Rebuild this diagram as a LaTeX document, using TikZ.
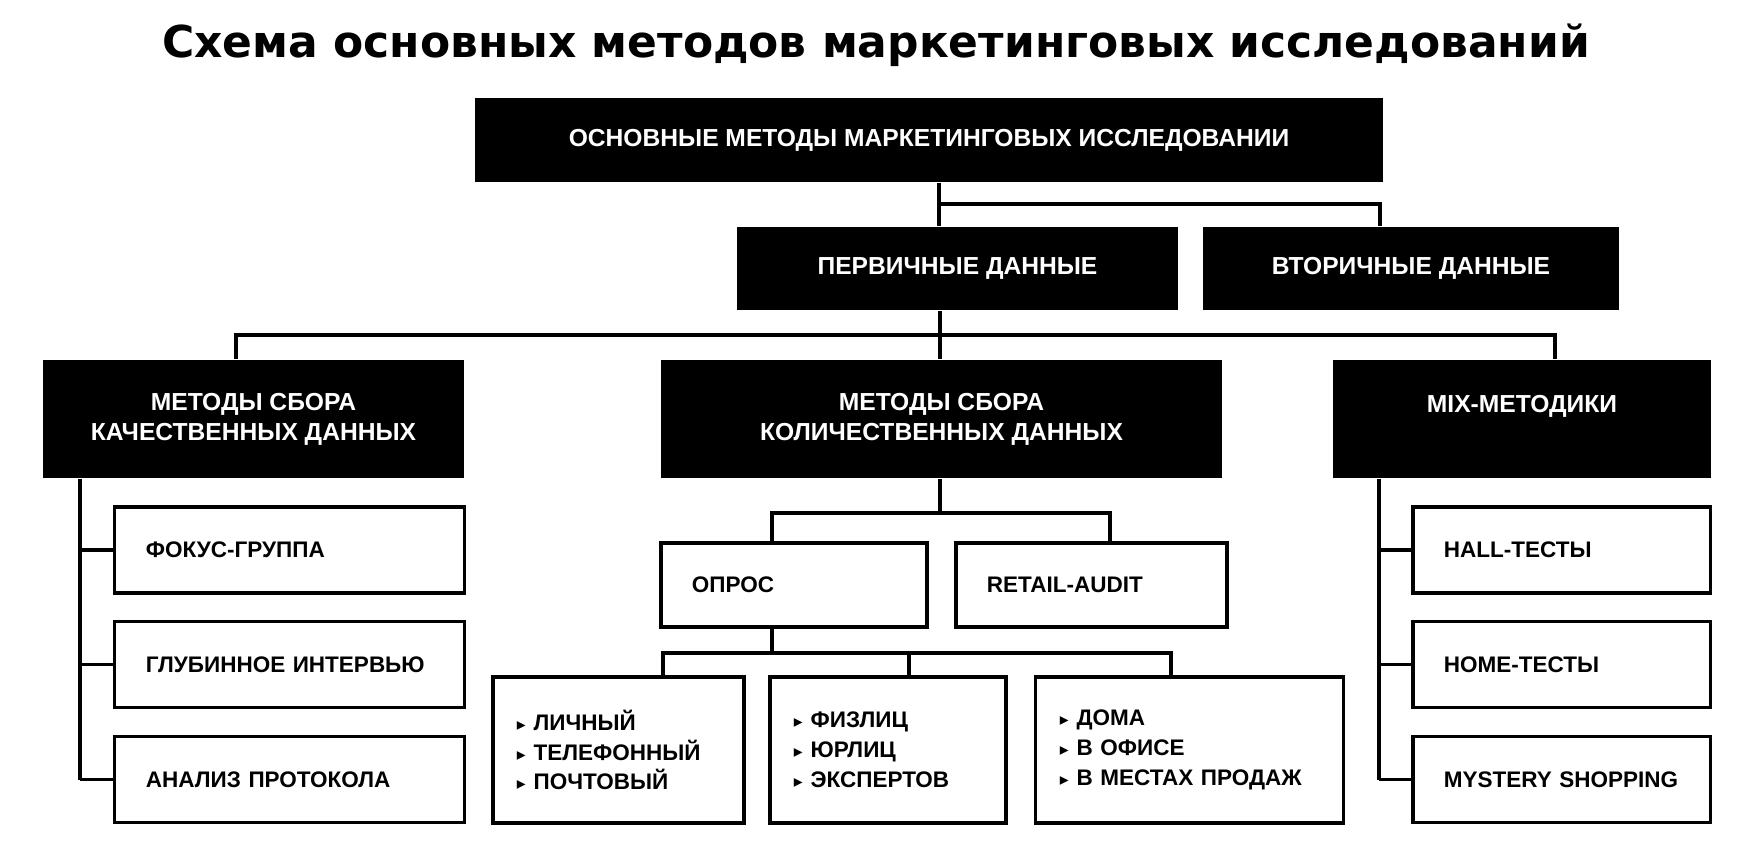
\documentclass[tikz,border=0pt]{standalone}
\usepackage{fontspec}
\setmainfont{Liberation Sans}
\newfontfamily\titlefont{DejaVu Sans}
\newfontfamily\symfont{DejaVu Sans}
\newcommand\blt{{\symfont\fontsize{5}{5}\selectfont ▸}\hspace{0.35em}}

\tikzset{
  hdr/.style={fill=black, text=white, inner sep=0pt, align=center,
    font=\bfseries\fontsize{7}{8.5}\selectfont},
  leaf/.style={draw=black, line width=0.9pt, inner xsep=0.31cm, inner ysep=0pt,
    align=left, text width=#1, font=\bfseries\fontsize{6.4}{8.5}\selectfont},
  sub/.style={leaf=#1, inner xsep=0.24cm, minimum height=1.46cm},
  conn/.style={line width=0.9pt},
}

\begin{document}
\begin{tikzpicture}[x=0.01cm, y=-0.01cm]
  \useasboundingbox (0,0) rectangle (1762,849);

  % Title
  \node[font=\titlefont\bfseries\fontsize{12.5}{15}\selectfont] (title) at (876,45)
    {Схема основных методов маркетинговых исследований};

  % Black header boxes
  \node[hdr, minimum width=9.08cm, minimum height=0.84cm] (main) at (929,140)
    {\raisebox{-1.5pt}{ОСНОВНЫЕ МЕТОДЫ МАРКЕТИНГОВЫХ ИССЛЕДОВАНИИ}};
  \node[hdr, minimum width=4.41cm, minimum height=0.83cm] (prim) at (957.5,268.5) {ПЕРВИЧНЫЕ ДАННЫЕ};
  \node[hdr, minimum width=4.16cm, minimum height=0.83cm] (sec) at (1411,268.5) {ВТОРИЧНЫЕ ДАННЫЕ};
  \node[hdr, minimum width=4.21cm, minimum height=1.18cm] (qual) at (253.5,419)
    {МЕТОДЫ СБОРА\\КАЧЕСТВЕННЫХ ДАННЫХ};
  \node[hdr, minimum width=5.61cm, minimum height=1.18cm] (quant) at (941.5,419)
    {МЕТОДЫ СБОРА\\КОЛИЧЕСТВЕННЫХ ДАННЫХ};
  \node[hdr, minimum width=3.78cm, minimum height=1.18cm] (mix) at (1522,419) {MIX-МЕТОДИКИ\\\mbox{}};

  % Qualitative methods
  \node[leaf=2.87cm, minimum height=0.86cm] (focus) at (289.5,550) {ФОКУС-ГРУППА};
  \node[leaf=2.87cm, minimum height=0.86cm] (deep)  at (289.5,664.5) {ГЛУБИННОЕ ИНТЕРВЬЮ};
  \node[leaf=2.87cm, minimum height=0.86cm] (proto) at (289.5,779.5) {АНАЛИЗ ПРОТОКОЛА};

  % Mix methods
  \node[leaf=2.35cm, minimum height=0.86cm] (hall) at (1561.5,550) {HALL-ТЕСТЫ};
  \node[leaf=2.35cm, minimum height=0.86cm] (home) at (1561.5,664.5) {HOME-ТЕСТЫ};
  \node[leaf=2.35cm, minimum height=0.86cm] (myst) at (1561.5,779.5) {MYSTERY SHOPPING};

  % Quantitative methods
  \node[leaf=2.04cm, minimum height=0.84cm] (opros)  at (794,585) {ОПРОС};
  \node[leaf=2.09cm, minimum height=0.84cm] (retail) at (1091.5,585) {RETAIL-AUDIT};
  \node[sub=2.03cm] (sub1) at (618.5,750) {\blt ЛИЧНЫЙ\\\blt ТЕЛЕФОННЫЙ\\\blt ПОЧТОВЫЙ};
  \node[sub=1.88cm] (sub2) at (888,750) {\blt ФИЗЛИЦ\\\blt ЮРЛИЦ\\\blt ЭКСПЕРТОВ};
  \node[sub=2.59cm] (sub3) at (1189.5,750) {\blt ДОМА\\\blt В ОФИСЕ\\\blt В МЕСТАХ ПРОДАЖ};

  % Connections: top level
  \coordinate (j1) at (939,204);
  \coordinate (j1r) at (1380,204);
  \draw[conn] (main.south -| j1) -- (prim.north -| j1);
  \draw[conn] (j1) -- (j1r) -- (sec.north -| j1r);

  % Connections: primary data
  \coordinate (j2) at (940,335);
  \coordinate (j2l) at (236,335);
  \coordinate (j2r) at (1555,335);
  \draw[conn] (prim.south -| j2) -- (quant.north -| j2);
  \draw[conn] (qual.north -| j2l) -- (j2l) -- (j2r) -- (mix.north -| j2r);

  % Connections: qualitative and mix lists
  \coordinate (qv) at (80,780);
  \coordinate (mv) at (1379,780);
  \draw[conn] (qual.south -| qv) -- (qv);
  \draw[conn] (mix.south -| mv) -- (mv);
  \foreach \n in {focus,deep,proto} \draw[conn] (\n.west) -- (\n.west -| qv);
  \foreach \n in {hall,home,myst} \draw[conn] (\n.west) -- (\n.west -| mv);

  % Connections: quantitative
  \coordinate (j3l) at (772,513);
  \coordinate (j3r) at (1110,513);
  \draw[conn] (quant.south -| j2) -- (j2 |- j3l);
  \draw[conn] (opros.north -| j3l) -- (j3l) -- (j3r) -- (retail.north -| j3r);

  % Connections: survey kinds
  \coordinate (j4) at (772,653);
  \coordinate (j4l) at (663,653);
  \coordinate (j4m) at (909,653);
  \coordinate (j4r) at (1171,653);
  \draw[conn] (opros.south -| j4) -- (j4);
  \draw[conn] (sub1.north -| j4l) -- (j4l) -- (j4r) -- (sub3.north -| j4r);
  \draw[conn] (j4m) -- (sub2.north -| j4m);
\end{tikzpicture}
\end{document}
